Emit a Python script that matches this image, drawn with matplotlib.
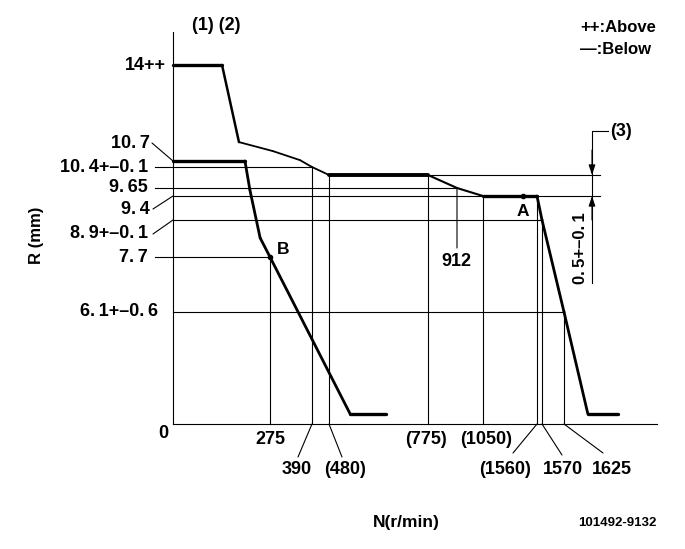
import numpy as np
import matplotlib
matplotlib.use("Agg")
import matplotlib.pyplot as plt
from matplotlib.transforms import Affine2D, blended_transform_factory

W, H = 685, 549

# the drawing is a schematic, not to scale: anchors map each value to its place
x_anchor_rpm = [-490, 0, 275, 390, 480, 775, 912, 1050, 1560, 1570, 1625, 1855, 1925]
x_anchor_px = [0, 173, 270, 312, 329, 428, 457, 483, 537, 542, 564, 657, 685]
y_anchor_r = [-6.8, 0, 6.1, 7.7, 8.9, 9.4, 9.65, 9.9, 10.4, 10.7, 14, 16.23]
y_anchor_px = [549, 424, 312, 257, 220, 196, 188, 175, 167, 161, 65, 0]

# full load / governor curve (N r/min, R mm)
max_rpm = [0, 139, 187, 283, 357, 390, 480, 775, 912, 1050, 1560, 1570, 1625, 1684, 1759]
max_r = [14, 14, 11.35, 11.04, 10.73, 10.4, 9.9, 9.9, 9.65, 9.4, 9.4, 8.9, 6.1, 0.55, 0.55]
max_lw = [2.4, 1.8, 1.3, 1.3, 1.3, 1.3, 2.8, 1.5, 1.5, 2.4, 2.0, 2.0, 2.0, 2.4]

# idle curve
idle_rpm = [0, 204, 218, 247, 275, 543, 650]
idle_r = [10.7, 10.7, 9.59, 8.32, 7.7, 0.55, 0.55]
idle_lw = [2.4, 2.0, 2.0, 2.0, 2.0, 2.4]

point_a = (1428, 9.4)
point_b = (275, 7.7)

sp = "\u2009"
y_labels = ["14++", f"10.{sp}4+–0.{sp}1", f"9.{sp}65", f"7.{sp}7", f"6.{sp}1+–0.{sp}6"]
y_label_r = [14, 10.4, 9.65, 7.7, 6.1]
y_label_right = [166, 148, 148, 148, 158]

yh = H - np.array(y_anchor_px, dtype=float)


def fx(v):
    return np.interp(v, x_anchor_rpm, x_anchor_px)


def ix(p):
    return np.interp(p, x_anchor_px, x_anchor_rpm)


def fy(v):
    return np.interp(v, y_anchor_r, yh)


def iy(p):
    return np.interp(p, yh, y_anchor_r)


fig = plt.figure(figsize=(W / 100, H / 100), dpi=100)
ax = fig.add_axes([0, 0, 1, 1])
ax.set_xscale("function", functions=(fx, ix))
ax.set_yscale("function", functions=(fy, iy))
ax.set_xlim(-490, 1925)
ax.set_ylim(-6.8, 16.23)
ax.axis("off")

pix = Affine2D().scale(1 / W, -1 / H).translate(0, 1) + fig.transFigure
bx = blended_transform_factory(ax.transData, pix)   # x data, y pixel
by = blended_transform_factory(pix, ax.transData)   # x pixel, y data

font = dict(family=["Liberation Sans", "DejaVu Sans"], weight="bold")
thin = dict(color="black", lw=0.8)

# axes
ax.plot([0, 0], [0, 15.13], **thin)
ax.plot([0, 1855], [0, 0], **thin)

# reference lines
ax.plot([-51, 390], [10.4, 10.4], **thin)
ax.plot([-51, 912], [9.65, 9.65], **thin)
ax.plot([775, 1714], [9.9, 9.9], **thin)
ax.plot([0, 1714], [9.4, 9.4], **thin)
ax.plot([0, 1570], [8.9, 8.9], **thin)
ax.plot([-51, 275], [7.7, 7.7], **thin)
ax.plot([0, 1625], [6.1, 6.1], **thin)
for v, r in [(275, 7.7), (390, 10.4), (480, 9.9), (775, 9.9), (1050, 9.4),
             (1560, 9.4), (1570, 8.9), (1625, 6.1)]:
    ax.plot([v, v], [r, 0], **thin)

def leader(xy, xytext, xycoords="data"):
    ax.annotate("", xy=xy, xycoords=xycoords, xytext=xytext, textcoords=pix,
                arrowprops=dict(arrowstyle="-", lw=0.8, color="black",
                                shrinkA=0, shrinkB=0))

leader((0, 10.7), (152, 143))
leader((0, 9.4), (153, 209))
leader((0, 8.9), (153, 234))
leader((912, 9.65), (457, 248))
leader((390, 0), (298, 457))
leader((480, 0), (342, 457))
leader((1560, 0), (513, 453))
leader((1570, 0), (562, 455))
leader((1625, 0), (603, 453))

# curves
for i, lw in enumerate(max_lw):
    ax.plot(max_rpm[i:i + 2], max_r[i:i + 2], color="black", lw=lw,
            solid_capstyle="round")
for i, lw in enumerate(idle_lw):
    ax.plot(idle_rpm[i:i + 2], idle_r[i:i + 2], color="black", lw=lw,
            solid_capstyle="round")
ax.plot(*point_a, "ko", ms=3)
ax.plot(*point_b, "ko", ms=3)
ax.text(523, 212, "A", transform=pix, ha="center", va="center", size=12.5, **font)
ax.text(283, 250, "B", transform=pix, ha="center", va="center", size=12.5, **font)

fs = 13
# y labels
for lab, r, xr in zip(y_labels, y_label_r, y_label_right):
    ax.text(xr, r, lab, transform=by, ha="right", va="center", size=fs, **font)
ax.text(150, 143, f"10.{sp}7", transform=pix, ha="right", va="center", size=fs, **font)
ax.text(150, 209, f"9.{sp}4", transform=pix, ha="right", va="center", size=fs, **font)
ax.text(148, 233, f"8.{sp}9+–0.{sp}1", transform=pix, ha="right", va="center", size=fs, **font)
ax.text(163, 433, "0", transform=pix, ha="center", va="center", size=fs, **font)

# x labels
ax.text(275, 440, "275", transform=bx, ha="center", va="center", size=fs, **font)
ax.text(426, 440, "(775)", transform=pix, ha="center", va="center", size=fs, **font)
ax.text(486, 440, "(1050)", transform=pix, ha="center", va="center", size=fs, **font)
ax.text(297, 470, "390", transform=pix, ha="center", va="center", size=fs, **font)
ax.text(345, 470, "(480)", transform=pix, ha="center", va="center", size=fs, **font)
ax.text(505, 469, "(1560)", transform=pix, ha="center", va="center", size=fs, **font)
ax.text(563, 469, "1570", transform=pix, ha="center", va="center", size=fs, **font)
ax.text(612, 469, "1625", transform=pix, ha="center", va="center", size=fs, **font)
ax.text(456, 262, "912", transform=pix, ha="center", va="center", size=fs, **font)

# dimension (3)
ax.plot([592, 592, 608], [283, 131, 131], transform=pix, **thin)
for r, y0 in [(9.9, 150), (9.4, 220)]:
    ax.annotate("", xy=(592, r), xycoords=by, xytext=(592, y0), textcoords=pix,
                arrowprops=dict(arrowstyle="-|>,head_length=0.6,head_width=0.2",
                                mutation_scale=10, lw=0.8, color="black",
                                shrinkA=0, shrinkB=0))
ax.text(610, 131, "(3)", transform=pix, ha="left", va="center", size=fs, **font)
ax.text(581, 248, f"0.{sp}5+–0.{sp}1", transform=pix, ha="center", va="center",
        rotation=90, size=12, **font)

# titles and notes
ax.text(216, 25, "(1) (2)", transform=pix, ha="center", va="center", size=fs, **font)
ax.text(580, 27, "++:Above", transform=pix, ha="left", va="center", size=12, **font)
ax.text(580, 50, "—:Below", transform=pix, ha="left", va="center", size=12, **font)
ax.text(37, 235, "R (mm)", transform=pix, ha="center", va="center", rotation=90,
        size=12, **font)
ax.text(406, 523, "N(r/min)", transform=pix, ha="center", va="center", size=12.5, **font)
ax.text(617, 523, "101492-9132", transform=pix, ha="center", va="center", size=9.5, **font)

fig.savefig("out.png", dpi=100)
